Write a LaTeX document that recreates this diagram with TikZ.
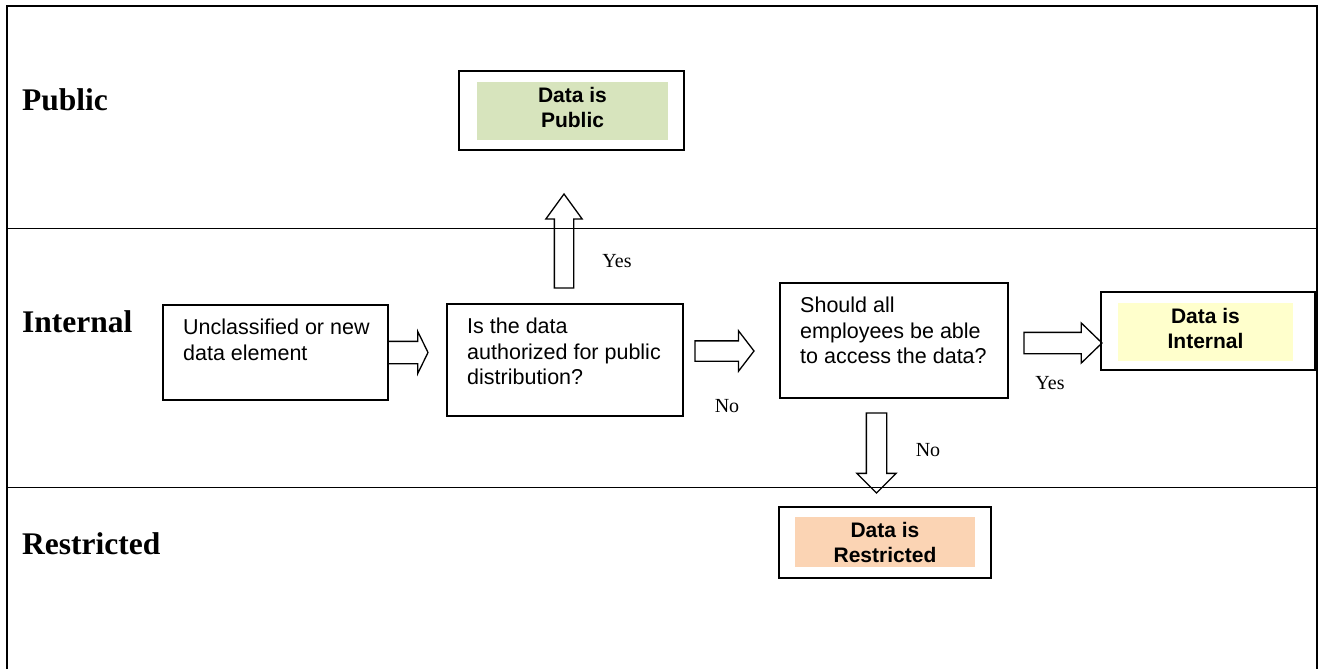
\documentclass[tikz,border=0pt]{standalone}
\usepackage{fontspec}
\setmainfont{Liberation Serif}
\setsansfont{Liberation Sans}
\usetikzlibrary{shapes.arrows,positioning}

\definecolor{pubgreen}{HTML}{D7E4BD}
\definecolor{intyellow}{HTML}{FFFFCC}
\definecolor{respeach}{HTML}{FBD4B4}

\tikzset{
  lane/.style={font=\bfseries\fontsize{31.5}{36}\selectfont, anchor=west, inner sep=0pt},
  stepbox/.style={draw, line width=1.4pt, outer sep=0pt, inner sep=0pt},
  steptext/.style={anchor=north west, align=left, inner xsep=20pt, inner ysep=14pt,
    font=\sffamily\fontsize{21.5}{25.5}\selectfont},
  classbox/.style={draw, line width=1.4pt, inner sep=0pt},
  classfill/.style={inner sep=0pt},
  classtext/.style={inner sep=0pt, align=center, font=\sffamily\bfseries\fontsize{21}{25}\selectfont},
  barrow/.style={single arrow, draw, line width=1.3pt, inner xsep=0pt, outer sep=0pt, anchor=tail},
  answer/.style={font=\fontsize{20}{24}\selectfont, inner sep=0pt}
}

\begin{document}
\begin{tikzpicture}[x=1pt,y=-1pt]
    \useasboundingbox (0,0) rectangle (1324,669);

    % frame and lanes
    \draw[line width=1.6pt] (7,669) -- (7,6) -- (1317,6) -- (1317,669);
    \draw[line width=0.8pt] (7,228) -- (1317,228);
    \draw[line width=0.8pt] (7,487) -- (1317,487);

    \node[lane] (public) at (22,100) {Public};
    \node[lane] (internal) at (22,322) {Internal};
    \node[lane] (restricted) at (22,544) {Restricted};

    % steps
    \node[stepbox, minimum width=225pt, minimum height=95pt,
      label={[steptext]north west:{Unclassified or new\\data element}}] (start) at (275.5,352.5) {};
    \node[stepbox, minimum width=236pt, minimum height=112pt,
      label={[steptext]north west:{Is the data\\authorized for public\\distribution?}}] (askpub) at (565,360) {};
    \node[stepbox, minimum width=228pt, minimum height=115pt,
      label={[steptext]north west:{Should all\\employees be able\\to access the data?}}] (askall) at (894,340.5) {};

    % results
    \node[classbox, minimum width=225pt, minimum height=79pt] (pub) at (571.5,110.5) {};
    \node[classfill, fill=pubgreen, minimum width=191pt, minimum height=58pt,
      label={[classtext, yshift=4pt]center:{Data is\\Public}}] (pubin) at (572.5,111) {};
    \node[classbox, minimum width=214pt, minimum height=78pt] (int) at (1208,331) {};
    \node[classfill, fill=intyellow, minimum width=175pt, minimum height=58pt,
      label={[classtext, yshift=4pt]center:{Data is\\Internal}}] (intin) at (1205.5,332) {};
    \node[classbox, minimum width=212pt, minimum height=71pt] (res) at (885,542.5) {};
    \node[classfill, fill=respeach, minimum width=180pt, minimum height=50pt,
      label={[classtext]center:{Data is\\Restricted}}] (resin) at (885,542) {};

    % block arrows
    \node[barrow, minimum height=40pt, minimum width=41pt, inner ysep=10.5pt,
      single arrow head extend=10pt, single arrow tip angle=128] (toask) at (start.east) {};
    \node[barrow, minimum height=94pt, minimum width=35pt, inner ysep=9pt,
      single arrow head extend=8.5pt, single arrow tip angle=72, rotate=90] (topub) at (564,288) {};
    \node[barrow, minimum height=59pt, minimum width=39pt, inner ysep=9.5pt,
      single arrow head extend=10pt, single arrow tip angle=105] (toall) at (695,351) {};
    \node[barrow, minimum height=78pt, minimum width=39pt, inner ysep=10pt,
      single arrow head extend=9.5pt, single arrow tip angle=88] (toint) at (1024,343) {};
    \node[barrow, minimum height=80pt, minimum width=38pt, inner ysep=9.5pt,
      single arrow head extend=9.5pt, single arrow tip angle=90, rotate=-90] (tores) at (876.5,413) {};

    % answers
    \node[answer] (yespub) at (617,261) {Yes};
    \node[answer] (nopub) at (727,406) {No};
    \node[answer] (yesall) at (1050,383) {Yes};
    \node[answer] (noall) at (928,450) {No};
\end{tikzpicture}
\end{document}
